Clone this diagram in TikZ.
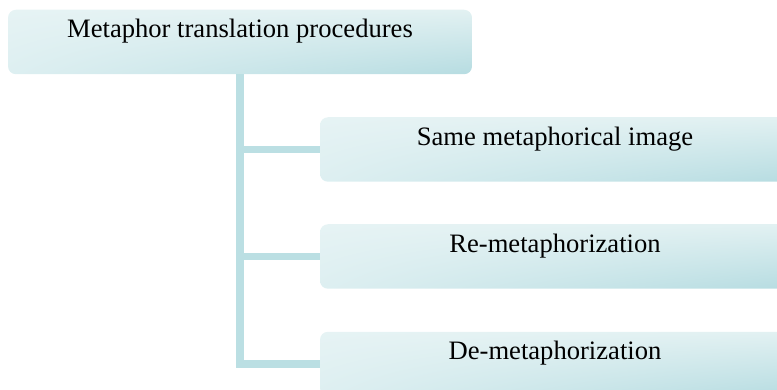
\documentclass[tikz,border=0pt]{standalone}
\usepackage{fontspec}
\setmainfont{Liberation Serif}
\usetikzlibrary{positioning,shadings}

\definecolor{boxlight}{RGB}{230,243,244}
\definecolor{boxupright}{RGB}{226,241,242}
\definecolor{boxlowleft}{RGB}{221,239,241}
\definecolor{boxdark}{RGB}{182,220,225}
\definecolor{linkcol}{RGB}{187,223,227}

\tikzset{
  procbox/.style={rectangle, rounded corners=8pt, inner sep=0pt, shade,
    upper left=boxlight, upper right=boxupright,
    lower left=boxlowleft, lower right=boxdark,
    text height=28pt, text depth=36.5pt,
    font=\fontsize{26.6}{30}\selectfont},
  link/.style={draw=linkcol, line width=7.5pt, line join=miter}
}

\begin{document}
\begin{tikzpicture}[x=1pt, y=-1pt]
    \useasboundingbox (0,0) rectangle (777,390);
    \clip (0,0) rectangle (777,390);

    % root and the three procedures
    \node[procbox, minimum width=464pt] (top) at (240,42) {Metaphor translation procedures};
    \node[procbox, minimum width=470pt] (same) at (555,149.5) {Same metaphorical image};
    \node[procbox, minimum width=470pt] (re) at (555,256.5) {Re-metaphorization};
    \node[procbox, minimum width=470pt] (de) at (555,364) {De-metaphorization};

    \draw[link] (top.south) |- (de.west);
    \draw[link] (top.south |- same.west) -- (same.west);
    \draw[link] (top.south |- re.west) -- (re.west);
\end{tikzpicture}
\end{document}
